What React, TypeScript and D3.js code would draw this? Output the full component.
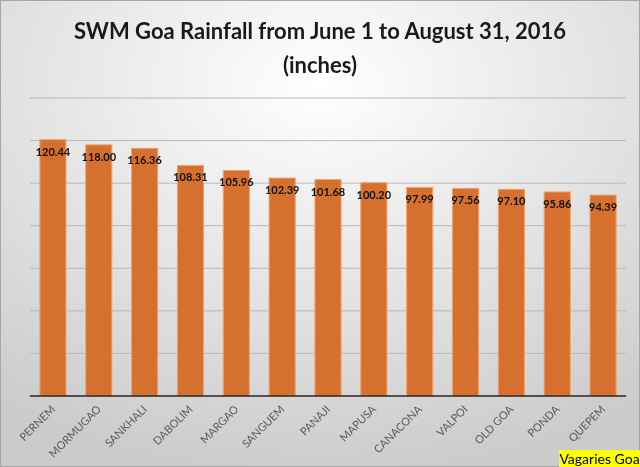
import { useMemo } from 'react';
import * as d3 from 'd3';

const stations = ['PERNEM', 'MORMUGAO', 'SANKHALI', 'DABOLIM', 'MARGAO', 'SANGUEM', 'PANAJI', 'MAPUSA', 'CANACONA', 'VALPOI', 'OLD GOA', 'PONDA', 'QUEPEM'];
const rainfall = [120.44, 118.0, 116.36, 108.31, 105.96, 102.39, 101.68, 100.2, 97.99, 97.56, 97.1, 95.86, 94.39];
const gridTicks = [0, 20, 40, 60, 80, 100, 120, 140];

const W = 640;
const H = 467;
const margin = { top: 98, right: 14, bottom: 71, left: 30 };

const FONT = 'Lato, "Open Sans", sans-serif';

export default function App() {
  const x = useMemo(
    () => d3.scaleBand<string>().domain(stations).range([margin.left, W - margin.right]).paddingInner(0.43).paddingOuter(0.215),
    []
  );
  const y = useMemo(() => d3.scaleLinear().domain([0, 140]).range([H - margin.bottom, margin.top]), []);

  return (
    <div style={{ position: 'fixed', left: 0, top: 0, width: W, height: H }}>
      <svg width={W} height={H} style={{ display: 'block', fontFamily: FONT }}>
        <defs>
          <radialGradient id="bg" cx="50%" cy="18%" r="85%" fx="50%" fy="18%">
            <stop offset="0%" stopColor="#ffffff" />
            <stop offset="100%" stopColor="#cbcbcb" />
          </radialGradient>
        </defs>
        <rect x={0.5} y={0.5} width={W - 1} height={H - 1} fill="url(#bg)" stroke="#a6a6a6" />

        <text x={W / 2} y={39} textAnchor="middle" fontSize={22} fontWeight="bold" fill="#1a1a1a">
          SWM Goa Rainfall from June 1 to August 31, 2016
        </text>
        <text x={W / 2} y={73} textAnchor="middle" fontSize={22} fontWeight="bold" fill="#1a1a1a">
          (inches)
        </text>

        <g>
          {gridTicks.slice(1).map(t => (
            <line key={t} x1={margin.left} x2={W - margin.right} y1={y(t)} y2={y(t)} stroke="#b8b8b8" strokeWidth={1} />
          ))}
        </g>

        <g>
          {stations.map((s, i) => (
            <rect
              key={s}
              x={x(s)}
              y={y(rainfall[i])}
              width={x.bandwidth()}
              height={y(0) - y(rainfall[i])}
              fill="#d5702f"
              stroke="#f0a46f"
              strokeWidth={1}
            />
          ))}
        </g>

        <line x1={margin.left} x2={W - margin.right} y1={y(0)} y2={y(0)} stroke="#262626" strokeWidth={1.5} />

        <g>
          {stations.map((s, i) => (
            <text
              key={s}
              x={(x(s) ?? 0) + x.bandwidth() / 2}
              y={y(rainfall[i]) + 16}
              textAnchor="middle"
              fontSize={11}
              fontWeight="bold"
              fill="#111"
            >
              {rainfall[i].toFixed(2)}
            </text>
          ))}
        </g>

        <g>
          {stations.map(s => {
            const cx = (x(s) ?? 0) + x.bandwidth() / 2 + 1;
            const cy = y(0) + 12;
            return (
              <text
                key={s}
                transform={`translate(${cx},${cy}) rotate(-45)`}
                textAnchor="end"
                dominantBaseline="middle"
                fontSize={11}
                fill="#595959"
              >
                {s}
              </text>
            );
          })}
        </g>

        <rect x={559} y={450} width={81} height={17} fill="#ffff00" />
        <text x={599.5} y={463.5} textAnchor="middle" fontSize={14} fill="#000">
          Vagaries Goa
        </text>
      </svg>
    </div>
  );
}
